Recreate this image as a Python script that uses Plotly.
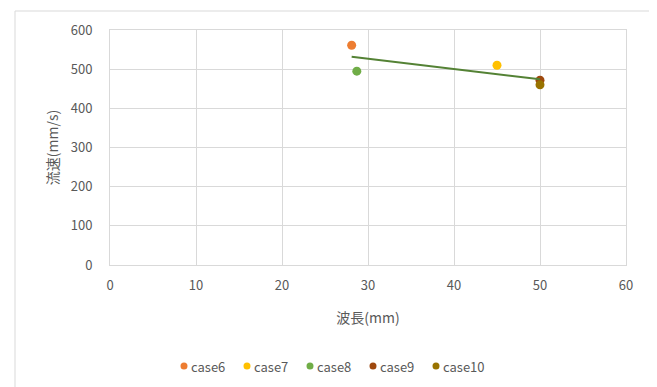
import numpy as np
import plotly.graph_objects as go

cases = ["case6", "case7", "case8", "case9", "case10"]
wavelength = [28.1, 45.0, 28.7, 50.0, 50.0]
velocity = [561, 510, 495, 472, 460]
colors = ["#ED7D31", "#FFC000", "#70AD47", "#9E480E", "#997300"]
x_ticks = [0, 10, 20, 30, 40, 50, 60]
y_ticks = [0, 100, 200, 300, 400, 500, 600]

fig = go.Figure()
for name, xv, yv, c in zip(cases, wavelength, velocity, colors):
    fig.add_trace(go.Scatter(x=[xv], y=[yv], mode="markers", name=name,
                             marker=dict(color=c, size=9), showlegend=False))

# linear trendline over all points
k, b = np.polyfit(wavelength, velocity, 1)
xt = np.array([min(wavelength), max(wavelength)])
fig.add_trace(go.Scatter(x=xt, y=k * xt + b, mode="lines", showlegend=False,
                         line=dict(color="#548235", width=2), hoverinfo="skip"))

# page body has an 8px margin, so the figure is sized/positioned accordingly
OFF = 8
W, H = 657 - OFF, 387 - OFF
L, T = 110 - OFF, 30 - OFF
PR, PB = 626 - OFF, 265 - OFF
PW, PH = PR - L, PB - T
font_fam = "Noto Sans CJK JP, Open Sans, sans-serif"
GRAY = "#595959"


def px_x(x):  # page pixel -> paper x
    return (x - OFF - L) / PW


def px_y(y):  # page pixel -> paper y
    return (PB - (y - OFF)) / PH


shapes = [dict(type="rect", xref="paper", yref="paper",
               x0=px_x(15), x1=px_x(652), y0=px_y(395), y1=px_y(11),
               line=dict(color="#D9D9D9", width=1), fillcolor="rgba(0,0,0,0)", layer="below")]
annotations = []
# custom compact legend (Excel-like)
leg_y = px_y(366)
for i, (name, c) in enumerate(zip(cases, colors)):
    cx = 184 + 63 * i
    shapes.append(dict(type="circle", xref="paper", yref="paper",
                       xsizemode="pixel", ysizemode="pixel",
                       xanchor=px_x(cx), yanchor=leg_y,
                       x0=-3.5, x1=3.5, y0=-3.5, y1=3.5,
                       fillcolor=c, line=dict(width=0)))
    annotations.append(dict(text=name, xref="paper", yref="paper",
                            x=px_x(cx + 5), y=leg_y, xanchor="left", yanchor="middle",
                            showarrow=False, font=dict(size=13, color=GRAY)))

fig.update_layout(
    width=W, height=H,
    margin=dict(l=L, r=W - PR, t=T, b=H - PB, pad=0),
    paper_bgcolor="white", plot_bgcolor="white",
    font=dict(family=font_fam, color=GRAY, size=13),
    showlegend=False,
    xaxis=dict(range=[0, 60], tickvals=x_ticks, showgrid=True, gridcolor="#D9D9D9",
               gridwidth=1, zeroline=False, showline=True, linecolor="#D9D9D9",
               mirror=True, ticks="", ticklabelstandoff=8,
               tickfont=dict(size=13, color=GRAY),
               title=dict(text="波長(mm)", font=dict(size=14, color=GRAY), standoff=20)),
    yaxis=dict(range=[0, 600], tickvals=y_ticks, showgrid=True, gridcolor="#D9D9D9",
               gridwidth=1, zeroline=False, showline=True, linecolor="#D9D9D9",
               mirror=True, ticks="", ticklabelstandoff=14,
               tickfont=dict(size=13, color=GRAY),
               title=dict(text="流速(mm/s)", font=dict(size=14, color=GRAY), standoff=8)),
    shapes=shapes,
    annotations=annotations,
)

fig.write_html("out.html")
